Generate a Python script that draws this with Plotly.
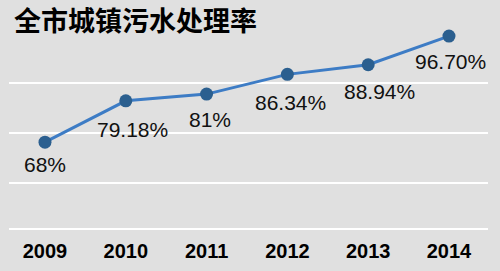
import plotly.graph_objects as go

years = ["2009", "2010", "2011", "2012", "2013", "2014"]
rates = [68, 79.18, 81, 86.34, 88.94, 96.70]
labels = ["68%", "79.18%", "81%", "86.34%", "88.94%", "96.70%"]
title_text = "全市城镇污水处理率"

# label offsets (styling)
label_dx = [0, 7, 3, 3, 11, 2]
label_dy = [-22, -29, -25, -28, -27, -25]

fig = go.Figure()
fig.add_trace(go.Scatter(
    x=years, y=rates, mode="lines+markers",
    line=dict(color="#3d7cc5", width=3),
    marker=dict(color="#2b5f8f", size=13),
    hoverinfo="skip", showlegend=False,
))

for i, (v, lab, dx, dy) in enumerate(zip(rates, labels, label_dx, label_dy)):
    fig.add_annotation(
        x=i, y=v, text=lab, showarrow=False,
        xshift=dx, yshift=dy,
        font=dict(family="Liberation Sans, Arial", size=21, color="#111111"),
    )

fig.update_layout(
    width=500, height=271,
    margin=dict(l=9, r=12, t=20, b=38),
    paper_bgcolor="#e0e0e0", plot_bgcolor="#e0e0e0",
    title=dict(
        text=title_text, xref="container", yref="container",
        x=14 / 500, xanchor="left", y=1 - 22 / 271, yanchor="middle",
        font=dict(family="Noto Sans CJK SC", size=27, color="#000000", weight="bold"),
    ),
    xaxis=dict(
        type="category", range=[-0.4455, 5.483],
        showgrid=False, zeroline=False,
        showline=True, linecolor="#ffffff", linewidth=2,
        ticks="", ticklabelstandoff=4,
        tickfont=dict(family="Liberation Sans, Arial", size=20, color="#000000", weight="bold"),
    ),
    yaxis=dict(
        range=[44.77, 101.05],
        tickvals=[56.9, 70.4, 83.87],
        showticklabels=False, ticks="",
        showgrid=True, gridcolor="#ffffff", gridwidth=2,
        zeroline=False, showline=False,
    ),
)

fig.write_html("out.html")
